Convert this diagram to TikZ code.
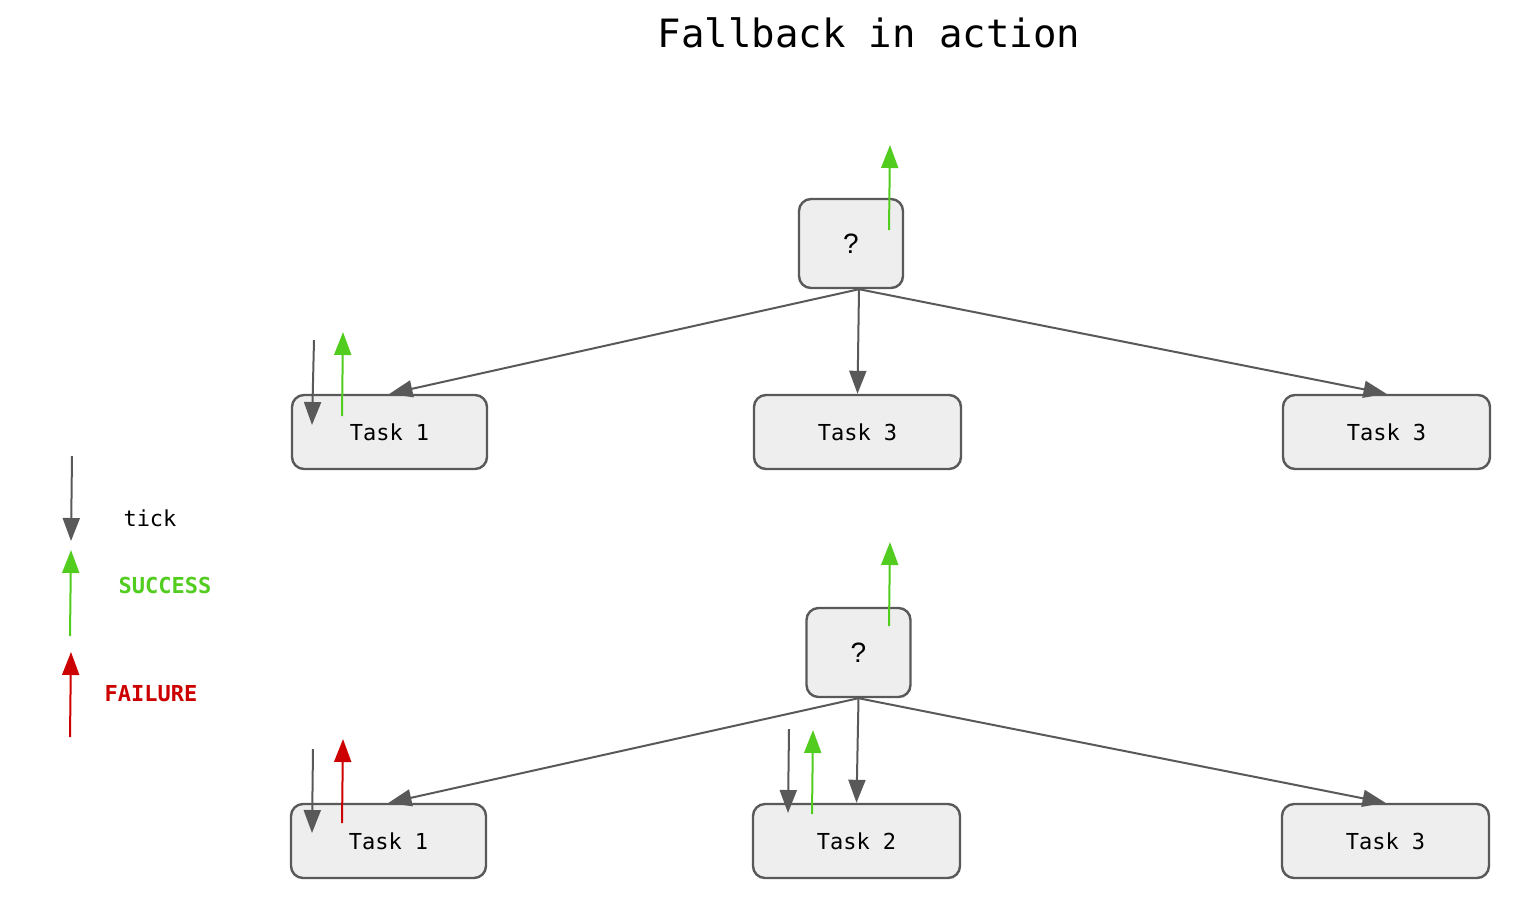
\documentclass[tikz,border=0pt]{standalone}
\usepackage{fontspec}
\setmainfont{Liberation Sans}
\setmonofont{DejaVu Sans Mono}
\usetikzlibrary{arrows.meta,positioning}
\definecolor{linegray}{HTML}{595959}
\definecolor{boxgray}{HTML}{EEEEEE}
\definecolor{okgreen}{HTML}{52CC1E}
\definecolor{badred}{HTML}{CC0000}

\begin{document}
\begin{tikzpicture}[x=0.5pt, y=-0.5pt,
  task/.style={draw=linegray, line width=1.2pt, rounded corners=6pt, fill=boxgray,
               minimum width=103.5pt, minimum height=37pt, inner sep=0pt,
               font=\ttfamily\fontsize{11}{13}\selectfont},
  fallback/.style={task, minimum width=52pt, minimum height=44.5pt,
                   font=\fontsize{14}{16}\selectfont},
  edge/.style={draw=linegray, line width=1pt, -{Triangle[width=8.5pt,length=11.5pt]}},
  tick/.style={edge},
  ok/.style={edge, draw=okgreen},
  fail/.style={edge, draw=badred},
  legend/.style={font=\ttfamily\fontsize{11}{13}\selectfont}
]
\useasboundingbox (0,0) rectangle (1521,902);

\node[font=\ttfamily\fontsize{19.5}{22}\selectfont] (title) at (869,33) {Fallback in action};

% upper tree
\node[fallback] (root1) at (851,243.5) {?};
\node[task, minimum width=97.5pt] (t11) at (389.5,432) {Task 1};
\node[task] (t12) at (857.5,432) {Task 3};
\node[task] (t13) at (1386.5,432) {Task 3};

\draw[edge] ([xshift=4pt]root1.south) -- (t11.north);
\draw[edge] ([xshift=4pt]root1.south) -- (t12.north);
\draw[edge] ([xshift=4pt]root1.south) -- (t13.north);

% lower tree
\node[fallback] (root2) at (858.5,652.5) {?};
\node[task, minimum width=97.5pt] (t21) at (388.5,841) {Task 1};
\node[task] (t22) at (856.5,841) {Task 2};
\node[task] (t23) at (1385.5,841) {Task 3};

\draw[edge] (root2.south) -- (t21.north);
\draw[edge] (root2.south) -- (t22.north);
\draw[edge] (root2.south) -- (t23.north);

% signals
\coordinate (s1a) at (889,230);  \coordinate (s1b) at (890,145);
\coordinate (s2a) at (314,340);  \coordinate (s2b) at (312,425);
\coordinate (s3a) at (342,416);  \coordinate (s3b) at (343,332);
\coordinate (s4a) at (889,626);  \coordinate (s4b) at (890,542);
\coordinate (s5a) at (313,749);  \coordinate (s5b) at (312,833);
\coordinate (s6a) at (342,823);  \coordinate (s6b) at (343,739);
\coordinate (s7a) at (789,729);  \coordinate (s7b) at (788,813);
\coordinate (s8a) at (812,814);  \coordinate (s8b) at (813,730);

\draw[ok]   (s1a) -- (s1b);
\draw[tick] (s2a) -- (s2b);
\draw[ok]   (s3a) -- (s3b);
\draw[ok]   (s4a) -- (s4b);
\draw[tick] (s5a) -- (s5b);
\draw[fail] (s6a) -- (s6b);
\draw[tick] (s7a) -- (s7b);
\draw[ok]   (s8a) -- (s8b);

% legend
\coordinate (l1a) at (72,456);  \coordinate (l1b) at (71,541);
\coordinate (l2a) at (70,636);  \coordinate (l2b) at (71,550);
\coordinate (l3a) at (70,737);  \coordinate (l3b) at (71,652);
\draw[tick] (l1a) -- (l1b);
\draw[ok]   (l2a) -- (l2b);
\draw[fail] (l3a) -- (l3b);
\node[legend] (ltick) at (150,518) {tick};
\node[legend, text=okgreen, font=\ttfamily\bfseries\fontsize{11}{13}\selectfont] (lok) at (165,585) {SUCCESS};
\node[legend, text=badred, font=\ttfamily\bfseries\fontsize{11}{13}\selectfont] (lfail) at (151,694) {FAILURE};
\end{tikzpicture}
\end{document}
